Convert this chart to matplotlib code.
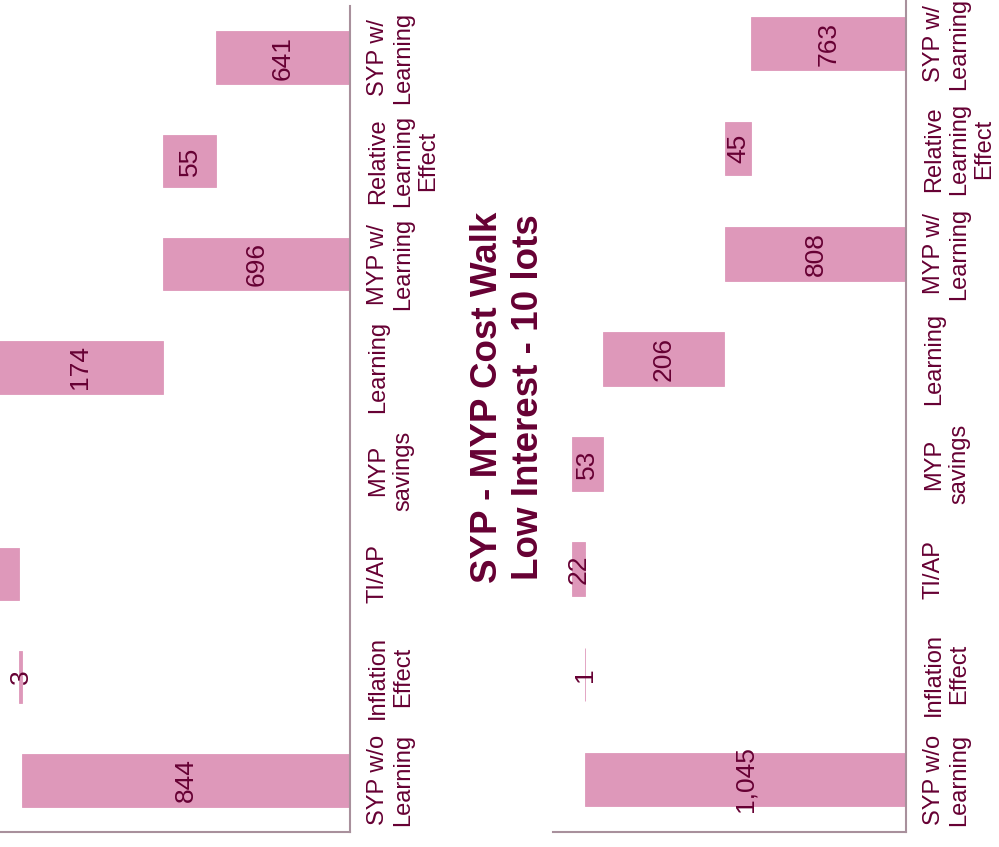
import matplotlib.pyplot as plt

plt.rcParams["font.family"] = ["Liberation Sans", "DejaVu Sans"]

# Categories (bottom to top after rotation)
categories = [
    "SYP w/o\nLearning",
    "Inflation\nEffect",
    "TI/AP",
    "MYP\nsavings",
    "Learning",
    "MYP w/\nLearning",
    "Relative\nLearning\nEffect",
    "SYP w/\nLearning",
]
kinds = ["total", "up", "up", "down", "down", "total", "down", "total"]

# Left walk (partly outside the frame)
left_values = [844, 3, 60, 37, 174, 696, 55, 641]
# Right walk: Low Interest - 10 lots
right_values = [1045, 1, 22, 53, 206, 808, 45, 763]

BAR_COLOR = "#DE98BA"
TEXT_COLOR = "#660033"
AXIS_COLOR = "#A8909C"

W, H = 999, 847


def px_axes(fig, x0, x1, y_top, y_bottom):
    # pixel box (top-down image coords) -> figure fraction
    return fig.add_axes([x0 / W, (H - y_bottom) / H, (x1 - x0) / W, (y_bottom - y_top) / H])


def draw_walk(ax, values, vmin, vmax):
    running = 0
    for i, (v, k) in enumerate(zip(values, kinds)):
        if k == "total":
            lo, hi = 0, v
            running = v
        elif k == "up":
            lo, hi = running, running + v
            running += v
        else:
            lo, hi = running - v, running
            running -= v
        ax.barh(i, hi - lo, left=lo, height=0.51, color=BAR_COLOR,
                edgecolor=BAR_COLOR, linewidth=0.6, zorder=2)
        label = f"{v:,}"
        xc = (max(lo, vmin) + hi) / 2
        ax.text(xc, i, label, rotation=90, ha="center", va="center",
                fontsize=19, color=TEXT_COLOR, zorder=3, clip_on=True)

    ax.set_xlim(vmax, vmin)
    ax.set_ylim(-0.5, len(categories) - 0.5)
    ax.yaxis.tick_right()
    ax.set_yticks(range(len(categories)))
    ax.set_yticklabels(categories, rotation=90, ha="left", va="center",
                       multialignment="center", fontsize=17, color=TEXT_COLOR,
                       linespacing=1.2)
    ax.tick_params(axis="y", length=0, pad=12)
    ax.set_xticks([])
    for s in ["top", "left"]:
        ax.spines[s].set_visible(False)
    for s in ["right", "bottom"]:
        ax.spines[s].set_color(AXIS_COLOR)
        ax.spines[s].set_linewidth(1.5)


fig = plt.figure(figsize=(W / 100, H / 100), dpi=100)

ax_left = px_axes(fig, -31, 350, 6, 832)
draw_walk(ax_left, left_values, 500, 900)

ax_right = px_axes(fig, 553, 906, -9, 832)
draw_walk(ax_right, right_values, 500, 1100)

fig.text(508 / W, 1 - 397 / H, "SYP - MYP Cost Walk\nLow Interest - 10 lots",
         rotation=90, ha="center", va="center", fontsize=26.5,
         fontweight="bold", color=TEXT_COLOR, linespacing=1.2)

fig.savefig("out.png", dpi=100)
